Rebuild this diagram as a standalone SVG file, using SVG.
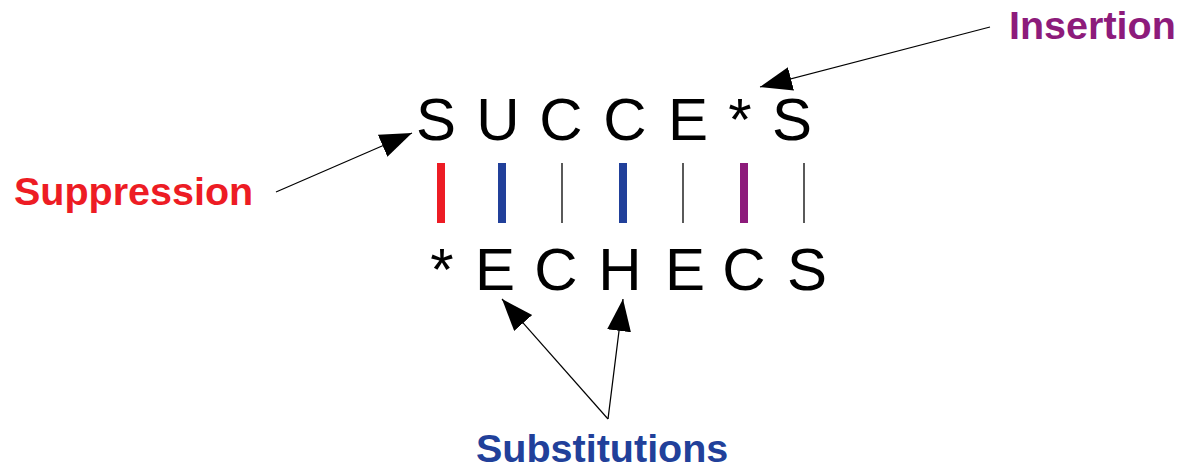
<svg xmlns="http://www.w3.org/2000/svg" width="1183" height="468" viewBox="0 0 1183 468">
<style>
.seq{font-family:"Liberation Sans",Arial,sans-serif;font-size:60px;fill:#000;text-anchor:middle}
.lbl{font-family:"Liberation Sans",Arial,sans-serif;font-size:39.5px;font-weight:bold}
.red{fill:#ed1c24}.blue{fill:#21409a}.purple{fill:#8d1b7b}
.thick{stroke-width:8}
.thin{stroke:#000;stroke-width:1.3}
.arrow{stroke:#000;stroke-width:1.2;fill:none;marker-end:url(#ah)}
</style>
<defs>
<marker id="ah" markerUnits="userSpaceOnUse" markerWidth="34" markerHeight="26" refX="32" refY="12" orient="auto">
<path d="M0,0 L32,12 L0,24 Z" fill="#000"/>
</marker>
</defs>
<rect width="1183" height="468" fill="#fff"/>
<g id="top-sequence">
<text class="seq" x="436" y="140">S</text>
<text class="seq" x="498" y="140">U</text>
<text class="seq" x="561" y="140">C</text>
<text class="seq" x="625" y="140">C</text>
<text class="seq" x="688" y="140">E</text>
<text class="seq" x="740" y="140">*</text>
<text class="seq" x="792" y="140">S</text>
</g>
<g id="bottom-sequence">
<text class="seq" x="442" y="290">*</text>
<text class="seq" x="495" y="290">E</text>
<text class="seq" x="556" y="290">C</text>
<text class="seq" x="620" y="290">H</text>
<text class="seq" x="685" y="290">E</text>
<text class="seq" x="744" y="290">C</text>
<text class="seq" x="807" y="290">S</text>
</g>
<g id="alignment-bars">
<line x1="441" y1="163" x2="441" y2="223" stroke="#ed1c24" class="thick"/>
<line x1="502" y1="163" x2="502" y2="223" stroke="#21409a" class="thick"/>
<line x1="562" y1="163" x2="562" y2="223" class="thin"/>
<line x1="623" y1="163" x2="623" y2="223" stroke="#21409a" class="thick"/>
<line x1="683" y1="163" x2="683" y2="223" class="thin"/>
<line x1="744" y1="163" x2="744" y2="223" stroke="#8d1b7b" class="thick"/>
<line x1="804" y1="163" x2="804" y2="223" class="thin"/>
</g>
<g id="label-suppression"><text class="lbl red" x="14" y="205">Suppression</text></g>
<g id="label-insertion"><text class="lbl purple" x="1009" y="39">Insertion</text></g>
<g id="label-substitutions"><text class="lbl blue" x="476" y="462">Substitutions</text></g>
<g id="connectors">
<line class="arrow" x1="276" y1="192" x2="412" y2="133"/>
<line class="arrow" x1="990" y1="27" x2="760" y2="87"/>
<line class="arrow" x1="608" y1="419" x2="502" y2="299"/>
<line class="arrow" x1="608" y1="419" x2="623" y2="299"/>
</g>
</svg>
